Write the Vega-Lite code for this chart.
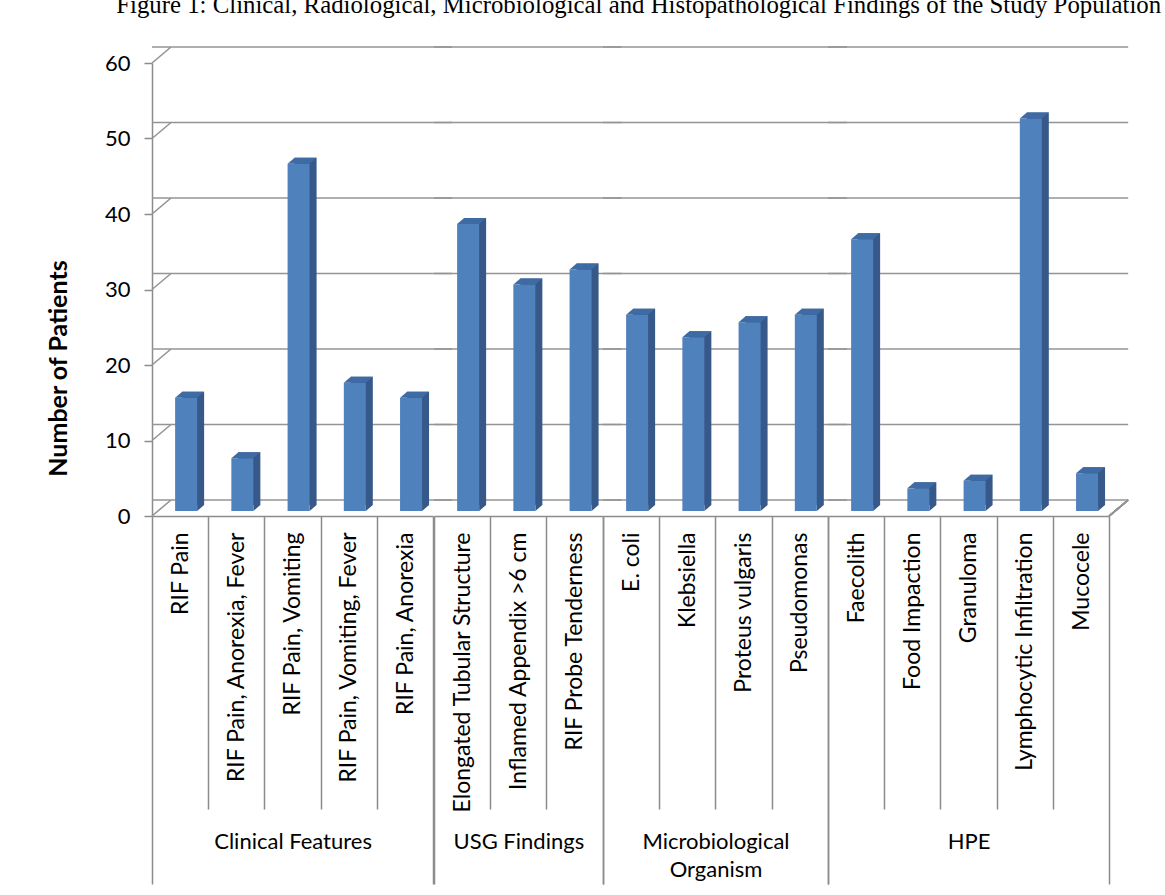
{
  "$schema": "https://vega.github.io/schema/vega-lite/v6.json",
  "padding": {"left": 46, "top": -7, "right": 10, "bottom": 10},
  "background": "white",
  "title": {
    "text": "Figure 1: Clinical, Radiological, Microbiological and Histopathological Findings of the Study Population",
    "font": "Liberation Serif", "fontSize": 24.8, "fontWeight": "normal", "color": "#000",
    "anchor": "middle", "frame": "bounds", "offset": 26, "dx": 50
  },
  "datasets": {
    "bars": [
      {"group": "Clinical Features", "category": "RIF Pain", "value": 15},
      {"group": "Clinical Features", "category": "RIF Pain, Anorexia, Fever", "value": 7},
      {"group": "Clinical Features", "category": "RIF Pain, Vomiting", "value": 46},
      {"group": "Clinical Features", "category": "RIF Pain, Vomiting, Fever", "value": 17},
      {"group": "Clinical Features", "category": "RIF Pain, Anorexia", "value": 15},
      {"group": "USG Findings", "category": "Elongated Tubular Structure", "value": 38},
      {"group": "USG Findings", "category": "Inflamed Appendix >6 cm", "value": 30},
      {"group": "USG Findings", "category": "RIF Probe Tenderness", "value": 32},
      {"group": "Microbiological Organism", "category": "E. coli", "value": 26},
      {"group": "Microbiological Organism", "category": "Klebsiella", "value": 23},
      {"group": "Microbiological Organism", "category": "Proteus vulgaris", "value": 25},
      {"group": "Microbiological Organism", "category": "Pseudomonas", "value": 26},
      {"group": "HPE", "category": "Faecolith", "value": 36},
      {"group": "HPE", "category": "Food Impaction", "value": 3},
      {"group": "HPE", "category": "Granuloma", "value": 4},
      {"group": "HPE", "category": "Lymphocytic Infiltration", "value": 52},
      {"group": "HPE", "category": "Mucocele", "value": 5}
    ],
    "grid": [{"v": 0}, {"v": 10}, {"v": 20}, {"v": 30}, {"v": 40}, {"v": 50}, {"v": 60}]
  },
  "spacing": 0,
  "bounds": "flush",
  "config": {"view": {"stroke": null}, "font": "Lato", "style": {"guide-title": {"lineBreak": "|"}}},
  "hconcat": [
    {
      "width": {"step": 56.235}, "height": 453,
      "data": {"name": "bars"},
      "transform": [{"filter": "datum.group === 'Clinical Features'"}],
      "resolve": {"axis": {"x": "independent", "y": "independent"}},
      "layer": [
        {"data": {"name": "grid"},
         "mark": {"type": "rule", "color": "#949494", "strokeWidth": 1.6, "xOffset": 19, "yOffset": -16},
         "encoding": {"y": {"field": "v", "type": "quantitative", "scale": {"domain": [0, 60], "nice": false},
           "axis": {"values": [0, 10, 20, 30, 40, 50, 60], "title": "Number of Patients", "titleFont": "Lato", "titleFontSize": 25, "titleFontWeight": "bold", "titleColor": "#000", "titleAngle": 270, "titleX": -94, "titleY": 305, "titleAlign": "center", "titleBaseline": "middle", "labelFont": "Lato", "labelFontSize": 22, "labelColor": "#000", "labelPadding": 14, "tickSize": 8, "tickColor": "#8c8c8c", "tickWidth": 1.5, "domainColor": "#8c8c8c", "domainWidth": 1.5, "grid": false}}}},
        {"mark": {"type": "bar", "color": "#36598A", "width": 22, "xOffset": 13, "yOffset": -11},
         "encoding": {"x": {"field": "category", "type": "nominal", "sort": null, "axis": null}, "y": {"field": "value", "type": "quantitative", "axis": null}}},
        {"mark": {"type": "point", "shape": "M-0.875,-0.75L0.875,-0.75L-0.875,0.75Z", "size": 64, "filled": true, "color": "#36598A", "opacity": 1, "strokeWidth": 0, "xOffset": 20.5, "yOffset": -8},
         "encoding": {"x": {"field": "category", "type": "nominal", "sort": null, "axis": null}, "y": {"datum": 0, "type": "quantitative", "axis": null}}},
        {"mark": {"type": "bar", "color": "#4F81BD", "width": 22, "xOffset": 6, "yOffset": -5},
         "encoding": {
           "x": {"field": "category", "type": "nominal", "sort": null,
             "scale": {"paddingInner": 0, "paddingOuter": 0},
             "axis": {"title": "Clinical Features", "titleY": 332, "titleBaseline": "alphabetic", "titleFont": "Lato", "titleFontSize": 22, "titleFontWeight": "normal", "titleColor": "#000", "titleLineHeight": 28, "labelAngle": 270, "labelAlign": "right", "labelBaseline": "middle", "labelFont": "Lato", "labelFontSize": 23, "labelColor": "#000", "labelLimit": 0, "labelOverlap": false, "labelPadding": -352, "tickSize": 368, "tickDash": {"condition": {"test": "datum.index < 0 || datum.index >= 1", "value": []}, "value": [293, 1000]}, "tickBand": "extent", "tickColor": "#8c8c8c", "tickWidth": 1.5, "domainColor": "#8c8c8c", "domainWidth": 1.5, "grid": false}},
           "y": {"field": "value", "type": "quantitative", "axis": null}}},
        {"mark": {"type": "point", "shape": "M-1,0.207L0.517,0.207L1,-0.207L-0.517,-0.207Z", "size": 841, "filled": true, "color": "#3F6BA4", "opacity": 1, "strokeWidth": 0, "xOffset": 9.5, "yOffset": -8},
         "encoding": {"x": {"field": "category", "type": "nominal", "sort": null, "axis": null}, "y": {"field": "value", "type": "quantitative", "axis": null}}},
        {"data": {"name": "grid"},
         "mark": {"type": "point", "shape": "M-1,0.842L1,-0.842", "size": 361, "filled": false, "stroke": "#949494", "strokeWidth": 1.6, "opacity": 1, "xOffset": 9.5, "yOffset": -8},
         "encoding": {"x": {"datum": "RIF Pain", "type": "nominal", "bandPosition": 0, "axis": null}, "y": {"field": "v", "type": "quantitative", "axis": null}}}
      ]
    },
    {
      "width": {"step": 56.235}, "height": 453,
      "data": {"name": "bars"},
      "transform": [{"filter": "datum.group === 'USG Findings'"}],
      "resolve": {"axis": {"x": "independent", "y": "independent"}},
      "layer": [
        {"data": {"name": "grid"},
         "mark": {"type": "rule", "color": "#949494", "strokeWidth": 1.6, "xOffset": 19, "yOffset": -16},
         "encoding": {"y": {"field": "v", "type": "quantitative", "scale": {"domain": [0, 60], "nice": false}, "axis": null}}},
        {"mark": {"type": "bar", "color": "#36598A", "width": 22, "xOffset": 13, "yOffset": -11},
         "encoding": {"x": {"field": "category", "type": "nominal", "sort": null, "axis": null}, "y": {"field": "value", "type": "quantitative", "axis": null}}},
        {"mark": {"type": "point", "shape": "M-0.875,-0.75L0.875,-0.75L-0.875,0.75Z", "size": 64, "filled": true, "color": "#36598A", "opacity": 1, "strokeWidth": 0, "xOffset": 20.5, "yOffset": -8},
         "encoding": {"x": {"field": "category", "type": "nominal", "sort": null, "axis": null}, "y": {"datum": 0, "type": "quantitative", "axis": null}}},
        {"mark": {"type": "bar", "color": "#4F81BD", "width": 22, "xOffset": 6, "yOffset": -5},
         "encoding": {
           "x": {"field": "category", "type": "nominal", "sort": null,
             "scale": {"paddingInner": 0, "paddingOuter": 0},
             "axis": {"title": "USG Findings", "titleY": 332, "titleBaseline": "alphabetic", "titleFont": "Lato", "titleFontSize": 22, "titleFontWeight": "normal", "titleColor": "#000", "titleLineHeight": 28, "labelAngle": 270, "labelAlign": "right", "labelBaseline": "middle", "labelFont": "Lato", "labelFontSize": 23, "labelColor": "#000", "labelLimit": 0, "labelOverlap": false, "labelPadding": -352, "tickSize": 368, "tickDash": {"condition": {"test": "datum.index < 0 || datum.index >= 1", "value": []}, "value": [293, 1000]}, "tickBand": "extent", "tickColor": "#8c8c8c", "tickWidth": 1.5, "domainColor": "#8c8c8c", "domainWidth": 1.5, "grid": false}},
           "y": {"field": "value", "type": "quantitative", "axis": null}}},
        {"mark": {"type": "point", "shape": "M-1,0.207L0.517,0.207L1,-0.207L-0.517,-0.207Z", "size": 841, "filled": true, "color": "#3F6BA4", "opacity": 1, "strokeWidth": 0, "xOffset": 9.5, "yOffset": -8},
         "encoding": {"x": {"field": "category", "type": "nominal", "sort": null, "axis": null}, "y": {"field": "value", "type": "quantitative", "axis": null}}}
      ]
    },
    {
      "width": {"step": 56.235}, "height": 453,
      "data": {"name": "bars"},
      "transform": [{"filter": "datum.group === 'Microbiological Organism'"}],
      "resolve": {"axis": {"x": "independent", "y": "independent"}},
      "layer": [
        {"data": {"name": "grid"},
         "mark": {"type": "rule", "color": "#949494", "strokeWidth": 1.6, "xOffset": 19, "yOffset": -16},
         "encoding": {"y": {"field": "v", "type": "quantitative", "scale": {"domain": [0, 60], "nice": false}, "axis": null}}},
        {"mark": {"type": "bar", "color": "#36598A", "width": 22, "xOffset": 13, "yOffset": -11},
         "encoding": {"x": {"field": "category", "type": "nominal", "sort": null, "axis": null}, "y": {"field": "value", "type": "quantitative", "axis": null}}},
        {"mark": {"type": "point", "shape": "M-0.875,-0.75L0.875,-0.75L-0.875,0.75Z", "size": 64, "filled": true, "color": "#36598A", "opacity": 1, "strokeWidth": 0, "xOffset": 20.5, "yOffset": -8},
         "encoding": {"x": {"field": "category", "type": "nominal", "sort": null, "axis": null}, "y": {"datum": 0, "type": "quantitative", "axis": null}}},
        {"mark": {"type": "bar", "color": "#4F81BD", "width": 22, "xOffset": 6, "yOffset": -5},
         "encoding": {
           "x": {"field": "category", "type": "nominal", "sort": null,
             "scale": {"paddingInner": 0, "paddingOuter": 0},
             "axis": {"title": "Microbiological|Organism", "titleY": 332, "titleBaseline": "alphabetic", "titleFont": "Lato", "titleFontSize": 22, "titleFontWeight": "normal", "titleColor": "#000", "titleLineHeight": 28, "labelAngle": 270, "labelAlign": "right", "labelBaseline": "middle", "labelFont": "Lato", "labelFontSize": 23, "labelColor": "#000", "labelLimit": 0, "labelOverlap": false, "labelPadding": -352, "tickSize": 368, "tickDash": {"condition": {"test": "datum.index < 0 || datum.index >= 1", "value": []}, "value": [293, 1000]}, "tickBand": "extent", "tickColor": "#8c8c8c", "tickWidth": 1.5, "domainColor": "#8c8c8c", "domainWidth": 1.5, "grid": false}},
           "y": {"field": "value", "type": "quantitative", "axis": null}}},
        {"mark": {"type": "point", "shape": "M-1,0.207L0.517,0.207L1,-0.207L-0.517,-0.207Z", "size": 841, "filled": true, "color": "#3F6BA4", "opacity": 1, "strokeWidth": 0, "xOffset": 9.5, "yOffset": -8},
         "encoding": {"x": {"field": "category", "type": "nominal", "sort": null, "axis": null}, "y": {"field": "value", "type": "quantitative", "axis": null}}}
      ]
    },
    {
      "width": {"step": 56.235}, "height": 453,
      "data": {"name": "bars"},
      "transform": [{"filter": "datum.group === 'HPE'"}],
      "resolve": {"axis": {"x": "independent", "y": "independent"}},
      "layer": [
        {"data": {"name": "grid"},
         "mark": {"type": "rule", "color": "#949494", "strokeWidth": 1.6, "xOffset": 19, "yOffset": -16},
         "encoding": {"y": {"field": "v", "type": "quantitative", "scale": {"domain": [0, 60], "nice": false}, "axis": null}}},
        {"mark": {"type": "bar", "color": "#36598A", "width": 22, "xOffset": 13, "yOffset": -11},
         "encoding": {"x": {"field": "category", "type": "nominal", "sort": null, "axis": null}, "y": {"field": "value", "type": "quantitative", "axis": null}}},
        {"mark": {"type": "point", "shape": "M-0.875,-0.75L0.875,-0.75L-0.875,0.75Z", "size": 64, "filled": true, "color": "#36598A", "opacity": 1, "strokeWidth": 0, "xOffset": 20.5, "yOffset": -8},
         "encoding": {"x": {"field": "category", "type": "nominal", "sort": null, "axis": null}, "y": {"datum": 0, "type": "quantitative", "axis": null}}},
        {"mark": {"type": "bar", "color": "#4F81BD", "width": 22, "xOffset": 6, "yOffset": -5},
         "encoding": {
           "x": {"field": "category", "type": "nominal", "sort": null,
             "scale": {"paddingInner": 0, "paddingOuter": 0},
             "axis": {"title": "HPE", "titleY": 332, "titleBaseline": "alphabetic", "titleFont": "Lato", "titleFontSize": 22, "titleFontWeight": "normal", "titleColor": "#000", "titleLineHeight": 28, "labelAngle": 270, "labelAlign": "right", "labelBaseline": "middle", "labelFont": "Lato", "labelFontSize": 23, "labelColor": "#000", "labelLimit": 0, "labelOverlap": false, "labelPadding": -352, "tickSize": 368, "tickDash": {"condition": {"test": "datum.index < 0 || datum.index >= 1", "value": []}, "value": [293, 1000]}, "tickBand": "extent", "tickColor": "#8c8c8c", "tickWidth": 1.5, "domainColor": "#8c8c8c", "domainWidth": 1.5, "grid": false}},
           "y": {"field": "value", "type": "quantitative", "axis": null}}},
        {"mark": {"type": "point", "shape": "M-1,0.207L0.517,0.207L1,-0.207L-0.517,-0.207Z", "size": 841, "filled": true, "color": "#3F6BA4", "opacity": 1, "strokeWidth": 0, "xOffset": 9.5, "yOffset": -8},
         "encoding": {"x": {"field": "category", "type": "nominal", "sort": null, "axis": null}, "y": {"field": "value", "type": "quantitative", "axis": null}}},
        {"data": {"name": "grid"},
         "mark": {"type": "point", "shape": "M-1,0.842L1,-0.842", "size": 361, "filled": false, "stroke": "#949494", "strokeWidth": 1.6, "opacity": 1, "xOffset": 9.5, "yOffset": -8},
         "encoding": {"x": {"datum": "Mucocele", "type": "nominal", "bandPosition": 1, "axis": null}, "y": {"datum": 0, "type": "quantitative", "axis": null}}}
      ]
    }
  ]
}
